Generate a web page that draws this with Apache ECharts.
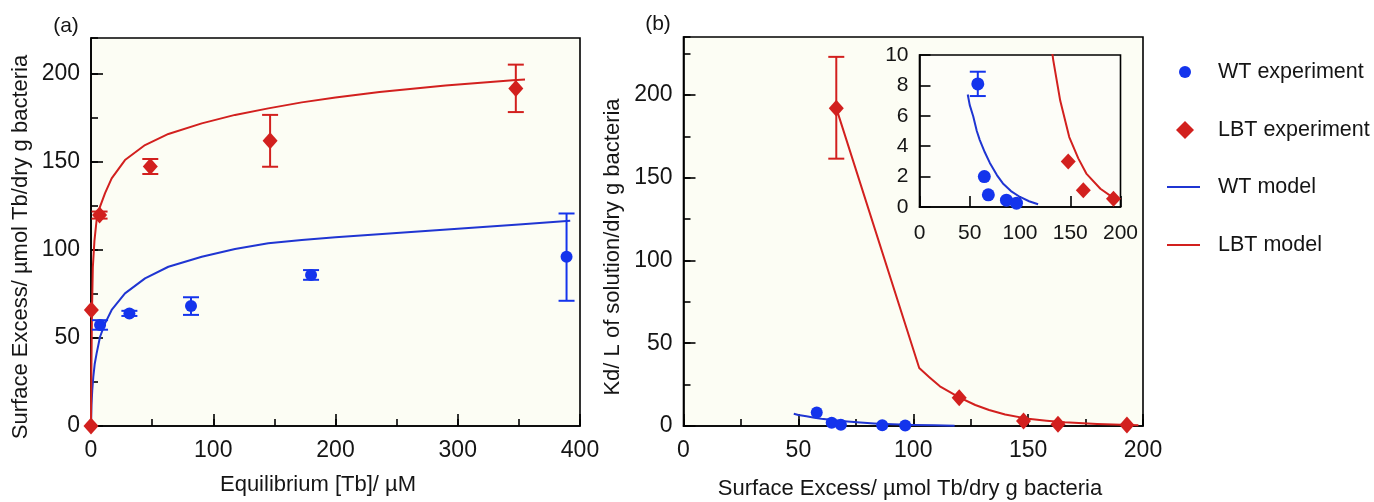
<!DOCTYPE html>
<html>
<head>
<meta charset="utf-8">
<script src="https://cdn.jsdelivr.net/npm/echarts@6/dist/echarts.min.js"></script>
<style>
html,body{margin:0;padding:0;background:#fff;}
#chart{width:1374px;height:502px;}
</style>
</head>
<body>
<div id="chart"></div>
<script>
// ---------- Panel (a): Surface excess vs equilibrium [Tb] ----------
const aWtX    = [7.4, 31.4, 81.8, 180, 389];
const aWtY    = [57.3, 63.8, 68, 85.6, 96];
const aWtLow  = [54.6, 62.4, 63, 82.9, 71];
const aWtHigh = [60, 65.3, 73, 88.4, 120.5];

const aLbtX    = [0, 0.3, 7, 48.5, 146.5, 347.5];
const aLbtY    = [0, 65.8, 119.6, 147.2, 161.8, 191.4];
const aLbtLow  = [null, null, 117.6, 142.9, 147, 178];
const aLbtHigh = [null, null, 121.6, 151.4, 176.4, 204.9];

const aWtModelX = [0, 0.4, 1, 1.9, 3, 4.6, 7.4, 11.5, 16.9, 27.8, 44.2, 63.3, 90.6, 117.8, 145, 172.4, 200, 250, 300, 350, 392];
const aWtModelY = [0, 12, 20, 28, 35, 41.2, 50.6, 58.2, 65.8, 75.2, 83.7, 90.3, 96, 100.4, 103.6, 105.5, 107, 109.5, 111.8, 114.2, 116.4];

const aLbtModelX = [0, 0.3, 0.8, 1.5, 2.8, 4.6, 7.4, 11.5, 16.9, 27.8, 44.2, 63.3, 90.6, 117.8, 145, 172.4, 200, 236, 290, 345, 355];
const aLbtModelY = [0, 30, 65, 90, 105, 116.8, 124.4, 132, 140.4, 150.8, 159.3, 165.6, 171.6, 176.4, 180.1, 183.5, 186.2, 189.4, 193, 196, 196.5];

// ---------- Panel (b): Kd vs surface excess ----------
const bWtX    = [58, 64.5, 68.5, 86.5, 96.5];
const bWtY    = [8.1, 2.0, 0.8, 0.45, 0.25];
const bWtLow  = [7.3, null, null, null, null];
const bWtHigh = [8.9, null, null, null, null];

const bLbtX    = [66.5, 120, 148, 163, 193];
const bLbtY    = [192, 17, 3.0, 1.1, 0.55];
const bLbtLow  = [161.5, null, null, null, null];
const bLbtHigh = [223, null, null, null, null];

const bWtModelX = [48, 50, 53.5, 57, 60, 65, 70, 77, 83, 91, 100, 109, 118];
const bWtModelY = [7.4, 6.7, 5.95, 5.0, 4.4, 3.6, 2.9, 2.1, 1.55, 1.05, 0.66, 0.38, 0.18];

const bLbtModelX = [66.5, 102.6, 107, 111.6, 120, 127, 133, 140, 149, 158, 166, 180, 194, 198];
const bLbtModelY = [192, 35, 29.5, 24, 17.3, 12.7, 9.7, 7.0, 4.6, 3.2, 2.2, 1.2, 0.55, 0.45];

// ---------- Axis ticks ----------
const aXTicks = {min: 0, max: 400, major: 100, minor: 50};
const aYTicks = {min: 0, max: 220, major: 50, minor: 25};
const bXTicks = {min: 0, max: 200, major: 50, minor: 25};
const bYTicks = {min: 0, max: 235, major: 50, minor: 25};
const inXTicks = {min: 0, max: 200, major: 50};
const inYTicks = {min: 0, max: 10, major: 2};

const legendNames = ['WT experiment', 'LBT experiment', 'WT model', 'LBT model'];
const axisNames = {
  aX: 'Equilibrium [Tb]/ µM',
  aY: 'Surface Excess/ µmol Tb/dry g bacteria',
  bX: 'Surface Excess/ µmol Tb/dry g bacteria',
  bY: 'Kd/ L of solution/dry g bacteria'
};

const BLUE = '#1434ec';
const BLUE_LINE = '#1f35d2';
const RED = '#d2201e';
const FONT = "'Liberation Sans', Arial, Helvetica, sans-serif";
const TXT = '#151515';

function zip(xs, ys) { return xs.map((x, i) => [x, ys[i]]); }
function errData(xs, lo, hi) {
  const out = [];
  xs.forEach((x, i) => { if (lo[i] != null && hi[i] != null) out.push([x, lo[i], hi[i]]); });
  return out;
}

function majorX(grid, t, fs, margin, tickLen) {
  return {
    gridIndex: grid, type: 'value', position: 'bottom', min: t.min, max: t.max, interval: t.major,
    axisLine: {show: true, lineStyle: {color: '#000', width: 1.6}},
    axisTick: {show: true, inside: true, length: tickLen, lineStyle: {color: '#000', width: 1.6}},
    axisLabel: {fontSize: fs, fontFamily: FONT, color: TXT, margin: margin, showMaxLabel: true},
    splitLine: {show: false}
  };
}
function minorX(grid, t) {
  return {
    gridIndex: grid, type: 'value', position: 'bottom', min: t.min, max: t.max, interval: t.minor,
    axisLine: {show: false},
    axisTick: {show: true, inside: true, length: 7, lineStyle: {color: '#000', width: 1.6}},
    axisLabel: {show: false}, splitLine: {show: false}
  };
}
function majorY(grid, t, fs, margin, tickLen, hideMax) {
  return {
    gridIndex: grid, type: 'value', position: 'left', min: t.min, max: t.max, interval: t.major,
    axisLine: {show: true, lineStyle: {color: '#000', width: 1.6}},
    axisTick: {show: true, inside: true, length: tickLen, lineStyle: {color: '#000', width: 1.6}},
    axisLabel: {fontSize: fs, fontFamily: FONT, color: TXT, margin: margin, showMaxLabel: !hideMax},
    splitLine: {show: false}
  };
}
function minorY(grid, t) {
  return {
    gridIndex: grid, type: 'value', position: 'left', min: t.min, max: t.max, interval: t.minor,
    axisLine: {show: false},
    axisTick: {show: true, inside: true, length: 7, lineStyle: {color: '#000', width: 1.6}},
    axisLabel: {show: false}, splitLine: {show: false}
  };
}

function errorSeries(xi, yi, data, color) {
  return {
    type: 'custom', xAxisIndex: xi, yAxisIndex: yi, clip: true, z: 3,
    data: data, silent: true,
    renderItem: function (params, api) {
      const x = api.value(0), lo = api.value(1), hi = api.value(2);
      const p1 = api.coord([x, lo]), p2 = api.coord([x, hi]);
      const w = 8;
      const st = {stroke: color, lineWidth: 2};
      return {type: 'group', children: [
        {type: 'line', shape: {x1: p1[0], y1: p1[1], x2: p2[0], y2: p2[1]}, style: st},
        {type: 'line', shape: {x1: p1[0] - w, y1: p1[1], x2: p1[0] + w, y2: p1[1]}, style: st},
        {type: 'line', shape: {x1: p2[0] - w, y1: p2[1], x2: p2[0] + w, y2: p2[1]}, style: st}
      ]};
    }
  };
}
function lineSeries(name, xi, yi, xs, ys, color) {
  return {name: name, type: 'line', xAxisIndex: xi, yAxisIndex: yi, data: zip(xs, ys),
    showSymbol: false, symbol: 'none', smooth: false, clip: true, z: 2,
    lineStyle: {color: color, width: 2, join: 'round'}, itemStyle: {color: color}};
}
function scatterSeries(name, xi, yi, xs, ys, color, symbol, size) {
  return {name: name, type: 'scatter', xAxisIndex: xi, yAxisIndex: yi, data: zip(xs, ys),
    symbol: symbol, symbolSize: size, clip: true, z: 4, itemStyle: {color: color, opacity: 1}};
}

const grids = [
  {left: 91, top: 38, width: 489, height: 388, show: true, backgroundColor: '#fcfdf4', borderColor: '#000', borderWidth: 1.6},
  {left: 683.5, top: 37, width: 459.5, height: 389, show: true, backgroundColor: '#fcfdf4', borderColor: '#000', borderWidth: 1.6},
  {left: 919.5, top: 55, width: 201, height: 152, show: true, backgroundColor: '#fdfdf8', borderColor: '#000', borderWidth: 1.6, z: 5}
];

const xAxes = [
  majorX(0, aXTicks, 23, 13, 12), minorX(0, aXTicks),
  majorX(1, bXTicks, 23, 13, 12), minorX(1, bXTicks),
  Object.assign(majorX(2, inXTicks, 21, 16, 11), {z: 6})
];
const yAxes = [
  majorY(0, aYTicks, 23, 11, 12, true), minorY(0, aYTicks),
  majorY(1, bYTicks, 23, 11, 12, true), minorY(1, bYTicks),
  Object.assign(majorY(2, inYTicks, 21, 11, 11, false), {z: 6})
];

const series = [
  // panel (a)
  lineSeries(legendNames[2], 0, 0, aWtModelX, aWtModelY, BLUE_LINE),
  lineSeries(legendNames[3], 0, 0, aLbtModelX, aLbtModelY, RED),
  errorSeries(0, 0, errData(aWtX, aWtLow, aWtHigh), BLUE),
  errorSeries(0, 0, errData(aLbtX, aLbtLow, aLbtHigh), RED),
  scatterSeries(legendNames[0], 0, 0, aWtX, aWtY, BLUE, 'circle', 12),
  scatterSeries(legendNames[1], 0, 0, aLbtX, aLbtY, RED, 'diamond', [15, 17]),
  // panel (b)
  lineSeries(legendNames[2], 2, 2, bWtModelX, bWtModelY, BLUE_LINE),
  lineSeries(legendNames[3], 2, 2, bLbtModelX, bLbtModelY, RED),
  errorSeries(2, 2, errData(bLbtX, bLbtLow, bLbtHigh), RED),
  scatterSeries(legendNames[0], 2, 2, bWtX, bWtY, BLUE, 'circle', 12),
  scatterSeries(legendNames[1], 2, 2, bLbtX, bLbtY, RED, 'diamond', [15, 17]),
  // inset
  Object.assign(lineSeries(legendNames[2], 4, 4, bWtModelX, bWtModelY, BLUE_LINE), {z: 7}),
  Object.assign(lineSeries(legendNames[3], 4, 4, bLbtModelX, bLbtModelY, RED), {z: 7}),
  Object.assign(errorSeries(4, 4, errData(bWtX, bWtLow, bWtHigh), BLUE), {z: 8}),
  Object.assign(scatterSeries(legendNames[0], 4, 4, bWtX, bWtY, BLUE, 'circle', 13), {z: 9}),
  Object.assign(scatterSeries(legendNames[1], 4, 4, bLbtX, bLbtY, RED, 'diamond', [15, 16]), {z: 9})
];

// one legend block per entry so each icon/text sits where the reference has it
function legendItem(name, icon, left, centerY, iconW, iconH, textPad) {
  return {
    data: [{name: name, icon: icon}],
    left: left, top: centerY - 12, orient: 'vertical', padding: 0,
    itemWidth: iconW, itemHeight: iconH, itemGap: 0, selectedMode: false,
    textStyle: {fontSize: 21.5, fontFamily: FONT, color: TXT, padding: [0, 0, 0, textPad], lineHeight: 24}
  };
}
const legends = [
  legendItem(legendNames[0], 'circle', 1179, 72, 12, 12, 22),
  legendItem(legendNames[1], 'diamond', 1176, 130, 18, 18, 19),
  legendItem(legendNames[2], 'rect', 1167, 187, 33, 2.2, 13),
  legendItem(legendNames[3], 'rect', 1167, 245, 33, 2.2, 13)
];

function gtext(text, x, y, size, rot) {
  return {type: 'text', x: x, y: y, rotation: rot || 0, silent: true,
    style: {text: text, fontSize: size, fontFamily: FONT, fill: TXT,
      align: 'center', verticalAlign: 'middle', textAlign: 'center', textVerticalAlign: 'middle'}};
}

const option = {
  animation: false,
  backgroundColor: '#ffffff',
  grid: grids,
  xAxis: xAxes,
  yAxis: yAxes,
  legend: legends,
  series: series,
  graphic: [
    gtext('(a)', 66, 26, 21),
    gtext('(b)', 658, 24, 21),
    gtext(axisNames.aY, 21, 247, 22, Math.PI / 2),
    gtext(axisNames.aX, 318, 485, 22),
    gtext(axisNames.bY, 613, 247, 22, Math.PI / 2),
    gtext(axisNames.bX, 910, 489, 22)
  ]
};

const chart = echarts.init(document.getElementById('chart'), null, {renderer: 'canvas'});
chart.setOption(option);
</script>
</body>
</html>
